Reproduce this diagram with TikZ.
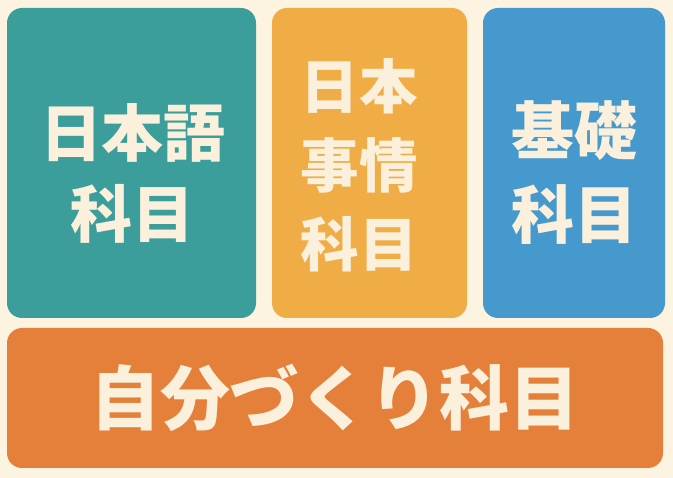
\documentclass[tikz,border=0pt]{standalone}
\usepackage{fontspec}
\newfontfamily\cjk{Noto Sans CJK JP}
\definecolor{bgc}{HTML}{FCF3E1}
\definecolor{tealc}{HTML}{3C9E9B}
\definecolor{yelc}{HTML}{F1AD45}
\definecolor{bluec}{HTML}{4599CD}
\definecolor{orc}{HTML}{E5803B}
\definecolor{txtc}{HTML}{FBF0DC}
\tikzset{
  panel/.style={rounded corners=15pt, draw=none},
  lbl/.style={text=txtc, align=center, inner sep=0pt, font=\cjk\bfseries},
}
\begin{document}
\begin{tikzpicture}[x=1pt,y=-1pt]
\fill[bgc] (0,0) rectangle (673,478);
\useasboundingbox (0,0) rectangle (673,478);
\fill[panel, tealc] (7,8) rectangle (256,318);
\fill[panel, yelc] (272,8) rectangle (467,318);
\fill[panel, bluec] (483,8) rectangle (665,318);
\fill[panel, orc] (7,328) rectangle (663,468);
\node[lbl, font=\cjk\bfseries\fontsize{62}{81}\selectfont] (t1) at (133,173) {日本語\\科目};
\node[lbl, font=\cjk\bfseries\fontsize{58.5}{79}\selectfont] (t2) at (359,165) {日本\\事情\\科目};
\node[lbl, font=\cjk\bfseries\fontsize{63}{84}\selectfont] (t3) at (574,173) {基礎\\科目};
\node[lbl, font=\cjk\bfseries\fontsize{70}{80}\selectfont] (t4) at (335,398) {自分づくり科目};
\end{tikzpicture}
\end{document}
